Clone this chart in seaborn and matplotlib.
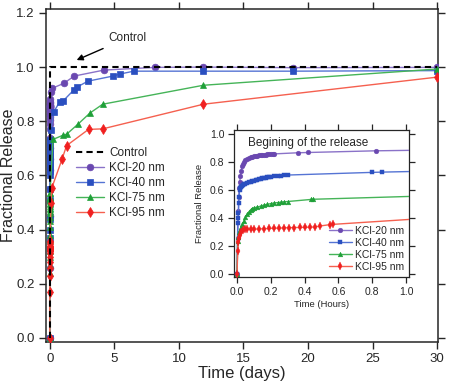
import numpy as np
import matplotlib
matplotlib.use('Agg')
import matplotlib.pyplot as plt
import seaborn as sns

# early part of the release (hours)
k20_early_h = [0, 0.004, 0.008, 0.010, 0.013, 0.016, 0.020, 0.025, 0.030, 0.036, 0.042, 0.05, 0.06, 0.07,
               0.08, 0.09, 0.10, 0.11, 0.12, 0.13, 0.14, 0.15, 0.16, 0.17, 0.18, 0.19, 0.20, 0.21, 0.22,
               0.36, 0.42, 0.82]
k20_early_y = [0.0, 0.26, 0.45, 0.55, 0.62, 0.66, 0.70, 0.74, 0.77, 0.79, 0.805, 0.815, 0.825, 0.83,
               0.835, 0.84, 0.843, 0.845, 0.848, 0.85, 0.851, 0.853, 0.854, 0.855, 0.856, 0.857, 0.858,
               0.859, 0.86, 0.868, 0.87, 0.882]
k40_early_h = [0, 0.004, 0.006, 0.008, 0.010, 0.012, 0.015, 0.02, 0.025, 0.03, 0.036, 0.042, 0.05, 0.06,
               0.07, 0.08, 0.09, 0.10, 0.11, 0.12, 0.13, 0.14, 0.15, 0.16, 0.17, 0.18, 0.19, 0.20, 0.22,
               0.24, 0.26, 0.28, 0.30, 0.80, 0.86]
k40_early_y = [0.0, 0.37, 0.40, 0.44, 0.51, 0.55, 0.60, 0.615, 0.625, 0.632, 0.638, 0.643, 0.648, 0.653,
               0.658, 0.662, 0.666, 0.67, 0.673, 0.676, 0.679, 0.682, 0.685, 0.688, 0.69, 0.692, 0.694,
               0.696, 0.699, 0.702, 0.705, 0.707, 0.709, 0.728, 0.73]
k75_early_h = [0, 0.004, 0.008, 0.012, 0.018, 0.025, 0.032, 0.04, 0.05, 0.06, 0.07, 0.08, 0.09, 0.10,
               0.12, 0.14, 0.16, 0.18, 0.20, 0.22, 0.24, 0.26, 0.28, 0.30, 0.44, 0.45]
k75_early_y = [0.0, 0.24, 0.27, 0.30, 0.32, 0.34, 0.36, 0.38, 0.41, 0.43, 0.445, 0.46, 0.47, 0.475,
               0.48, 0.487, 0.495, 0.50, 0.505, 0.51, 0.512, 0.515, 0.518, 0.52, 0.535, 0.536]
k95_early_h = [0, 0.004, 0.008, 0.012, 0.018, 0.025, 0.035, 0.045, 0.06, 0.08, 0.10, 0.13, 0.16, 0.19,
               0.22, 0.25, 0.28, 0.31, 0.34, 0.37, 0.40, 0.43, 0.46, 0.49, 0.55, 0.57]
k95_early_y = [0.0, 0.17, 0.23, 0.26, 0.28, 0.30, 0.315, 0.325, 0.325, 0.322, 0.322, 0.325, 0.325, 0.328,
               0.33, 0.33, 0.332, 0.333, 0.334, 0.335, 0.336, 0.337, 0.338, 0.345, 0.355, 0.357]

# later points (days)
k20_late_d = [0.1, 0.2, 1.08, 1.9, 4.2, 8.15, 11.9, 18.8, 30]
k20_late_y = [0.908, 0.922, 0.94, 0.967, 0.989, 0.999, 1.0, 0.998, 0.999]
k40_late_d = [0.1, 0.3, 0.77, 1.05, 1.85, 2.1, 2.95, 4.9, 5.4, 6.5, 11.9, 18.8, 30]
k40_late_y = [0.768, 0.834, 0.872, 0.876, 0.915, 0.926, 0.948, 0.967, 0.974, 0.985, 0.985, 0.985, 0.987]
k75_late_d = [0.25, 1.05, 1.3, 2.2, 3.1, 4.1, 11.9, 30]
k75_late_y = [0.733, 0.749, 0.752, 0.79, 0.83, 0.863, 0.933, 0.993]
k95_late_d = [0.1, 0.15, 0.95, 1.3, 3.0, 4.1, 11.9, 30]
k95_late_y = [0.50, 0.553, 0.66, 0.71, 0.77, 0.772, 0.863, 0.963]

control_d = [0, 0, 30]
control_y = [0, 1.0, 1.0]

labels = ['KCl-20 nm', 'KCl-40 nm', 'KCl-75 nm', 'KCl-95 nm']
markers = ['o', 's', '^', 'd']
mk_colors = ['#6a48b0', '#2a4fc0', '#1fa038', '#f02020']
ln_colors = ['#8a72c8', '#5574d4', '#45b458', '#f5604f']

series = [(k20_early_h, k20_early_y, k20_late_d, k20_late_y),
          (k40_early_h, k40_early_y, k40_late_d, k40_late_y),
          (k75_early_h, k75_early_y, k75_late_d, k75_late_y),
          (k95_early_h, k95_early_y, k95_late_d, k95_late_y)]

sns.set_style('ticks')
plt.rcParams['font.family'] = ['Liberation Sans', 'DejaVu Sans']

fig = plt.figure(figsize=(4.5, 3.86), dpi=100)
ax = fig.add_axes([0.102, 0.114, 0.871, 0.863])
axi = fig.add_axes([0.52, 0.282, 0.389, 0.381])

for (eh, ey, ld, ly), lab, m, mc, lc in zip(series, labels, markers, mk_colors, ln_colors):
    days = np.concatenate([np.array(eh) / 24.0, ld])
    vals = np.concatenate([ey, ly])
    ms = 4.8 if m != 'd' else 5.5
    sns.lineplot(x=days, y=vals, ax=ax, sort=False, estimator=None, color=lc, lw=1.0, marker=m,
                 markersize=ms, mfc=mc, mec=mc, mew=0.5, label=lab, zorder=3)
    sns.lineplot(x=days * 24, y=vals, ax=axi, sort=False, estimator=None, color=lc, lw=1.0, marker=m,
                 markersize=3.4 if m != 'd' else 4.2, mfc=mc, mec=mc, mew=0.3, label=lab, zorder=3)

sns.lineplot(x=control_d, y=control_y, ax=ax, sort=False, estimator=None, color='black', lw=1.5,
             linestyle=(0, (3, 2)), label='Control', zorder=4)

# main axes
ax.set_xlim(-0.3, 30.05)
ax.set_ylim(-0.015, 1.215)
ax.set_xticks([0, 5, 10, 15, 20, 25, 30])
ax.set_yticks([0.0, 0.2, 0.4, 0.6, 0.8, 1.0, 1.2])
ax.set_yticklabels(['0.0', '0.2', '0.4', '0.6', '0.8', '1.0', '1.2'])
ax.tick_params(direction='out', length=5, width=1, labelsize=9.5, top=True, right=True,
               labeltop=False, labelright=False, pad=3)
for s in ax.spines.values():
    s.set_linewidth(1.1)
ax.set_xlabel('Time (days)', fontsize=12, labelpad=1)
ax.set_ylabel('Fractional Release', fontsize=11.5, labelpad=0)
ax.annotate('Control', xy=(2.08, 1.026), xytext=(4.5, 1.107), fontsize=8.5, va='center',
            arrowprops=dict(arrowstyle='-|>', color='black', lw=1.0, mutation_scale=9,
                            shrinkA=2, shrinkB=0))

h, l = ax.get_legend_handles_labels()
order = [4, 0, 1, 2, 3]
ax.legend([h[i] for i in order], [l[i] for i in order], loc='upper left',
          bbox_to_anchor=(0.065, 0.6), frameon=False, fontsize=8.5, handlelength=2.4,
          handletextpad=0.4, labelspacing=0.25, borderaxespad=0)

# inset axes
axi.set_facecolor('white')
axi.set_xlim(-0.018, 1.018)
axi.set_ylim(-0.02, 1.03)
axi.set_xticks([0.0, 0.2, 0.4, 0.6, 0.8, 1.0])
axi.set_yticks([0.0, 0.2, 0.4, 0.6, 0.8, 1.0])
axi.set_xticklabels(['0.0', '0.2', '0.4', '0.6', '0.8', '1.0'])
axi.set_yticklabels(['0.0', '0.2', '0.4', '0.6', '0.8', '1.0'])
axi.tick_params(direction='out', length=4, width=0.9, labelsize=7.5, top=True, right=True,
                labeltop=False, labelright=False, pad=3)
for s in axi.spines.values():
    s.set_linewidth(0.9)
axi.set_xlabel('Time (Hours)', fontsize=6.8, labelpad=2)
axi.set_ylabel('Fractional Release', fontsize=6.8, labelpad=4)
axi.text(0.08, 0.95, 'Begining of the release', transform=axi.transAxes, fontsize=8.5,
         va='top', ha='left')
axi.legend(loc='lower right', bbox_to_anchor=(1.0, 0.0), frameon=False, fontsize=7.5,
           handlelength=2.2, handletextpad=0.3, labelspacing=0.2, borderaxespad=0.1)

fig.savefig('out.png', dpi=100)
